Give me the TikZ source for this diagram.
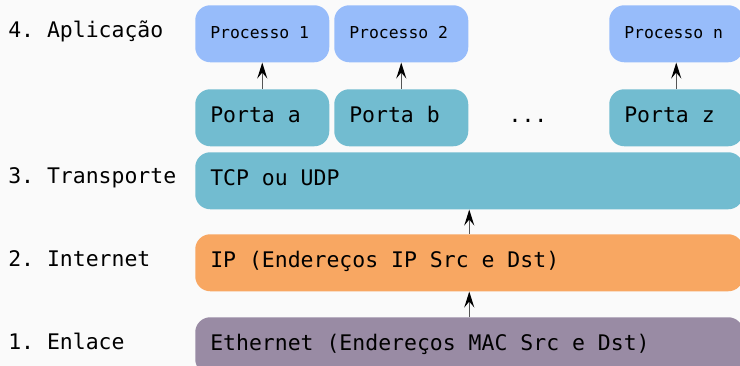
\documentclass[tikz,border=0pt]{standalone}
\usepackage{fontspec}
\setmainfont{DejaVu Sans Mono}[WordSpace={1,0,0},PunctuationSpace=WordSpace]
\setmonofont{DejaVu Sans Mono}[WordSpace={1,0,0},PunctuationSpace=WordSpace]
\usetikzlibrary{arrows.meta}
\definecolor{cbg}{RGB}{250,250,250}
\definecolor{cproc}{RGB}{151,188,250}
\definecolor{cport}{RGB}{114,188,208}
\definecolor{cip}{RGB}{248,167,98}
\definecolor{ceth}{RGB}{153,139,164}
\definecolor{carrow}{RGB}{85,85,85}
\frenchspacing
\newcommand\smallw[1]{\makebox[78pt][l]{#1}}
\newcommand\widew[1]{\makebox[388.5pt][l]{#1}}
\begin{document}
\begin{tikzpicture}[x=0.75pt,y=-0.75pt,
  bigtxt/.style={font=\ttfamily\frenchspacing\fontsize{16.1pt}{19pt}\selectfont, text height=0.73em, text depth=0pt},
  smalltxt/.style={font=\ttfamily\frenchspacing\fontsize{12.3pt}{15pt}\selectfont, text height=0.73em, text depth=0pt},
  box/.style={rounded corners=11.25pt, draw=none, anchor=north west, inner ysep=0pt,
    inner xsep=15*0.75pt, minimum height=57*0.75pt},
  lbl/.style={bigtxt, anchor=west, inner sep=0pt},
  arr/.style={-{Stealth[length=16*0.75pt, width=10*0.75pt, inset=6*0.75pt, color=black]}, draw=carrow, line width=1pt}
]
\useasboundingbox (0,0) rectangle (740,366);
\clip (0,0) rectangle (740,366);
\fill[cbg] (0,0) rectangle (740,366);

% labels
\node[lbl] (l4) at (8,33) {4. Aplicação};
\node[lbl] (l3) at (8,179) {3. Transporte};
\node[lbl] (l2) at (8,262) {2. Internet};
\node[lbl] (l1) at (8,345) {1. Enlace};

% processes
\node[box, smalltxt, fill=cproc] (p1) at (195,5) {\smallw{Processo 1}};
\node[box, smalltxt, fill=cproc] (p2) at (334,5) {\smallw{Processo 2}};
\node[box, smalltxt, fill=cproc] (pn) at (609,5) {\smallw{Processo n}};

% ports
\node[box, bigtxt, fill=cport] (pa) at (195,89) {\smallw{Porta a}};
\node[box, bigtxt, fill=cport] (pb) at (334,89) {\smallw{Porta b}};
\node[box, bigtxt, fill=cport] (pz) at (609,89) {\smallw{Porta z}};
\node[bigtxt, inner sep=0pt] (dots) at (528,117.5) {...};

% layers
\node[box, bigtxt, fill=cport] (tcp) at (195,152) {\widew{TCP ou UDP}};
\node[box, bigtxt, fill=cip] (ip) at (195,234) {\widew{IP (Endereços IP Src e Dst)}};
\node[box, bigtxt, fill=ceth] (eth) at (195,317) {\widew{Ethernet (Endereços MAC Src e Dst)}};

% arrows
\draw[arr] (pa.north) -- (p1.south);
\draw[arr] (pb.north) -- (p2.south);
\draw[arr] (pz.north) -- (pn.south);
\draw[arr] (ip.north) -- (tcp.south);
\draw[arr] (eth.north) -- (ip.south);
\end{tikzpicture}
\end{document}
